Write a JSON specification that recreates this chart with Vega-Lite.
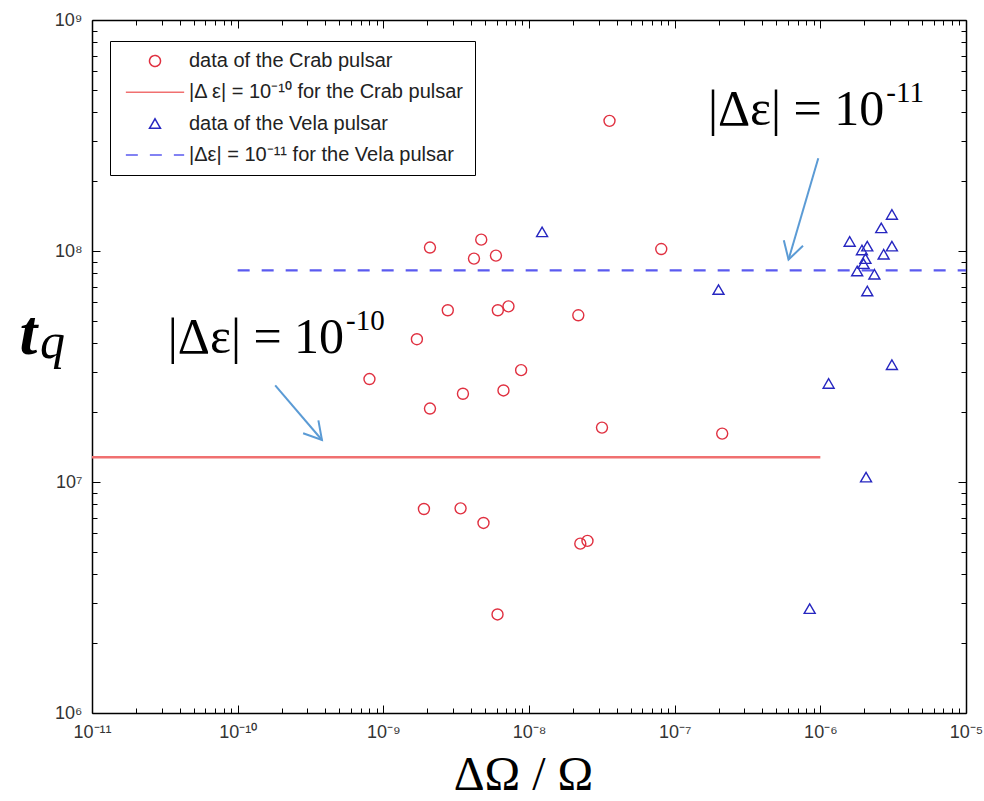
{
  "$schema": "https://vega.github.io/schema/vega-lite/v6.json",
  "width": 874,
  "height": 693,
  "autosize": {"type": "none"},
  "padding": {"left": 92, "top": 20, "right": 18, "bottom": 88},
  "background": "white",
  "config": {
    "view": {"stroke": null},
    "axis": {"grid": false, "domainColor": "black", "domainWidth": 1.5, "tickColor": "black", "tickWidth": 1, "labelFont": "Liberation Sans", "labelFontSize": 18, "labelColor": "#333", "labelOverlap": false, "labelFlush": false},
    "legend": {"strokeColor": "black", "fillColor": "white", "padding": 10, "labelFont": "Liberation Sans", "labelFontSize": 20, "labelColor": "#222", "labelLimit": 500, "symbolSize": 121, "symbolStrokeWidth": 1.5, "rowPadding": 11.3, "symbolOffset": 25, "labelOffset": 24}
  },
  "datasets": {
    "points": [
      {"dOmega": 2.09e-9, "tq": 1.035e8, "series": "data of the Crab pulsar"},
      {"dOmega": 4.70e-9, "tq": 1.12e8, "series": "data of the Crab pulsar"},
      {"dOmega": 4.19e-9, "tq": 9.27e7, "series": "data of the Crab pulsar"},
      {"dOmega": 5.93e-9, "tq": 9.55e7, "series": "data of the Crab pulsar"},
      {"dOmega": 2.77e-9, "tq": 5.54e7, "series": "data of the Crab pulsar"},
      {"dOmega": 6.11e-9, "tq": 5.54e7, "series": "data of the Crab pulsar"},
      {"dOmega": 7.23e-9, "tq": 5.76e7, "series": "data of the Crab pulsar"},
      {"dOmega": 1.70e-9, "tq": 4.15e7, "series": "data of the Crab pulsar"},
      {"dOmega": 8.03e-10, "tq": 2.79e7, "series": "data of the Crab pulsar"},
      {"dOmega": 8.83e-9, "tq": 3.05e7, "series": "data of the Crab pulsar"},
      {"dOmega": 3.52e-9, "tq": 2.41e7, "series": "data of the Crab pulsar"},
      {"dOmega": 6.68e-9, "tq": 2.49e7, "series": "data of the Crab pulsar"},
      {"dOmega": 2.09e-9, "tq": 2.08e7, "series": "data of the Crab pulsar"},
      {"dOmega": 1.90e-9, "tq": 7.64e6, "series": "data of the Crab pulsar"},
      {"dOmega": 3.39e-9, "tq": 7.69e6, "series": "data of the Crab pulsar"},
      {"dOmega": 4.87e-9, "tq": 6.65e6, "series": "data of the Crab pulsar"},
      {"dOmega": 6.08e-9, "tq": 2.67e6, "series": "data of the Crab pulsar"},
      {"dOmega": 3.57e-8, "tq": 3.66e8, "series": "data of the Crab pulsar"},
      {"dOmega": 8.09e-8, "tq": 1.02e8, "series": "data of the Crab pulsar"},
      {"dOmega": 2.18e-8, "tq": 5.27e7, "series": "data of the Crab pulsar"},
      {"dOmega": 3.17e-8, "tq": 1.72e7, "series": "data of the Crab pulsar"},
      {"dOmega": 2.12e-7, "tq": 1.62e7, "series": "data of the Crab pulsar"},
      {"dOmega": 2.25e-8, "tq": 5.41e6, "series": "data of the Crab pulsar"},
      {"dOmega": 2.52e-8, "tq": 5.56e6, "series": "data of the Crab pulsar"},
      {"dOmega": 1.23e-8, "tq": 1.21e8, "series": "data of the Vela pulsar"},
      {"dOmega": 2.0e-7, "tq": 6.81e7, "series": "data of the Vela pulsar"},
      {"dOmega": 8.45e-7, "tq": 2.83e6, "series": "data of the Vela pulsar"},
      {"dOmega": 3.10e-6, "tq": 1.44e8, "series": "data of the Vela pulsar"},
      {"dOmega": 2.62e-6, "tq": 1.26e8, "series": "data of the Vela pulsar"},
      {"dOmega": 1.59e-6, "tq": 1.10e8, "series": "data of the Vela pulsar"},
      {"dOmega": 2.10e-6, "tq": 1.05e8, "series": "data of the Vela pulsar"},
      {"dOmega": 3.10e-6, "tq": 1.05e8, "series": "data of the Vela pulsar"},
      {"dOmega": 1.93e-6, "tq": 1.01e8, "series": "data of the Vela pulsar"},
      {"dOmega": 2.72e-6, "tq": 9.68e7, "series": "data of the Vela pulsar"},
      {"dOmega": 2.04e-6, "tq": 9.27e7, "series": "data of the Vela pulsar"},
      {"dOmega": 1.98e-6, "tq": 8.82e7, "series": "data of the Vela pulsar"},
      {"dOmega": 1.79e-6, "tq": 8.19e7, "series": "data of the Vela pulsar"},
      {"dOmega": 2.35e-6, "tq": 7.93e7, "series": "data of the Vela pulsar"},
      {"dOmega": 2.10e-6, "tq": 6.71e7, "series": "data of the Vela pulsar"},
      {"dOmega": 3.10e-6, "tq": 3.22e7, "series": "data of the Vela pulsar"},
      {"dOmega": 1.14e-6, "tq": 2.67e7, "series": "data of the Vela pulsar"},
      {"dOmega": 2.06e-6, "tq": 1.05e7, "series": "data of the Vela pulsar"}
    ],
    "lines": [
      {"from": 1e-11, "to": 1e-6, "tq": 1.28e7, "series": "|Δ ε| = 10⁻¹⁰ for the Crab pulsar"},
      {"from": 1e-10, "to": 1e-5, "tq": 8.25e7, "series": "|Δε| = 10⁻¹¹ for the Vela pulsar"}
    ],
    "notes": [
      {"x": 5.38e-10, "y": 3.61e7, "base": "|Δε| = 10", "exp": "-10"},
      {"x": 2.75e-6, "y": 3.50e8, "base": "|Δε| = 10", "exp": "-11"}
    ],
    "shafts": [
      {"x": 1.81e-10, "y": 2.62e7, "x2": 3.79e-10, "y2": 1.52e7},
      {"x": 9.68e-7, "y": 2.52e8, "x2": 6.05e-7, "y2": 9.18e7}
    ]
  },
  "layer": [
    {
      "data": {"name": "lines"},
      "mark": {"type": "rule", "strokeWidth": 2.3},
      "encoding": {
        "x": {"field": "from", "type": "quantitative", "scale": {"type": "log", "domain": [1e-11, 1e-5], "nice": false},
          "axis": {"orient": "top", "labels": false, "values": [1e-11,2e-11,3e-11,4e-11,5e-11,6e-11,7e-11,8e-11,9e-11,1e-10,2e-10,3e-10,4e-10,5e-10,6e-10,7e-10,8e-10,9e-10,1e-9,2e-9,3e-9,4e-9,5e-9,6e-9,7e-9,8e-9,9e-9,1e-8,2e-8,3e-8,4e-8,5e-8,6e-8,7e-8,8e-8,9e-8,1e-7,2e-7,3e-7,4e-7,5e-7,6e-7,7e-7,8e-7,9e-7,1e-6,2e-6,3e-6,4e-6,5e-6,6e-6,7e-6,8e-6,9e-6,1e-5],
            "tickSize": {"condition": {"test": "indexof([1e-11,1e-10,1e-9,1e-8,1e-7,1e-6,1e-5], datum.value) >= 0", "value": -8}, "value": -5},
            "title": "q", "titleFont": "Liberation Serif", "titleFontStyle": "italic", "titleFontWeight": "normal", "titleFontSize": 50, "titleColor": "black", "titleAngle": 0, "titleAlign": "center", "titleBaseline": "alphabetic", "titleX": -40, "titleY": 337}},
        "x2": {"field": "to"},
        "y": {"field": "tq", "type": "quantitative", "scale": {"type": "log", "domain": [1e6, 1e9], "nice": false},
          "axis": {"orient": "right", "labels": false, "title": null, "values": [1e6,2e6,3e6,4e6,5e6,6e6,7e6,8e6,9e6,1e7,2e7,3e7,4e7,5e7,6e7,7e7,8e7,9e7,1e8,2e8,3e8,4e8,5e8,6e8,7e8,8e8,9e8,1e9],
            "tickSize": {"condition": {"test": "indexof([1e6,1e7,1e8,1e9], datum.value) >= 0", "value": -8}, "value": -5}}},
        "color": {"field": "series", "type": "nominal",
          "scale": {"domain": ["data of the Crab pulsar", "|Δ ε| = 10⁻¹⁰ for the Crab pulsar", "data of the Vela pulsar", "|Δε| = 10⁻¹¹ for the Vela pulsar"], "range": ["#e03040", "#f07070", "#2626c0", "#5a5af0"]},
          "legend": {"orient": "none", "legendX": 18, "legendY": 21, "title": null}},
        "strokeDash": {"field": "series", "type": "nominal",
          "scale": {"domain": ["data of the Crab pulsar", "|Δ ε| = 10⁻¹⁰ for the Crab pulsar", "data of the Vela pulsar", "|Δε| = 10⁻¹¹ for the Vela pulsar"], "range": [[1, 0], [1, 0], [1, 0], [12, 12]]},
          "legend": {"orient": "none", "legendX": 18, "legendY": 21, "title": null}}
      }
    },
    {
      "data": {"name": "points"},
      "mark": {"type": "point", "filled": false, "size": 121, "strokeWidth": 1.4, "opacity": 1},
      "encoding": {
        "x": {"field": "dOmega", "type": "quantitative", "scale": {"type": "log", "domain": [1e-11, 1e-5], "nice": false},
          "axis": {"orient": "bottom", "values": [1e-11,2e-11,3e-11,4e-11,5e-11,6e-11,7e-11,8e-11,9e-11,1e-10,2e-10,3e-10,4e-10,5e-10,6e-10,7e-10,8e-10,9e-10,1e-9,2e-9,3e-9,4e-9,5e-9,6e-9,7e-9,8e-9,9e-9,1e-8,2e-8,3e-8,4e-8,5e-8,6e-8,7e-8,8e-8,9e-8,1e-7,2e-7,3e-7,4e-7,5e-7,6e-7,7e-7,8e-7,9e-7,1e-6,2e-6,3e-6,4e-6,5e-6,6e-6,7e-6,8e-6,9e-6,1e-5],
            "tickSize": {"condition": {"test": "indexof([1e-11,1e-10,1e-9,1e-8,1e-7,1e-6,1e-5], datum.value) >= 0", "value": -8}, "value": -5},
            "labelExpr": "datum.value==1e-11?'10⁻¹¹':datum.value==1e-10?'10⁻¹⁰':datum.value==1e-9?'10⁻⁹':datum.value==1e-8?'10⁻⁸':datum.value==1e-7?'10⁻⁷':datum.value==1e-6?'10⁻⁶':datum.value==1e-5?'10⁻⁵':''",
            "labelPadding": 18, "labelFontSize": 18,
            "title": "ΔΩ / Ω", "titleFont": "Liberation Serif", "titleFontWeight": "normal", "titleFontSize": 48, "titleColor": "black", "titleX": 431, "titleY": 76, "titleBaseline": "alphabetic"}},
        "y": {"field": "tq", "type": "quantitative", "scale": {"type": "log", "domain": [1e6, 1e9], "nice": false},
          "axis": {"orient": "left", "values": [1e6,2e6,3e6,4e6,5e6,6e6,7e6,8e6,9e6,1e7,2e7,3e7,4e7,5e7,6e7,7e7,8e7,9e7,1e8,2e8,3e8,4e8,5e8,6e8,7e8,8e8,9e8,1e9],
            "tickSize": {"condition": {"test": "indexof([1e6,1e7,1e8,1e9], datum.value) >= 0", "value": -8}, "value": -5},
            "labelExpr": "datum.value==1e6?'10⁶':datum.value==1e7?'10⁷':datum.value==1e8?'10⁸':datum.value==1e9?'10⁹':''",
            "labelPadding": 18, "labelFontSize": 18,
            "title": "t", "titleFont": "Liberation Serif", "titleFontStyle": "italic", "titleFontWeight": "bold", "titleFontSize": 64, "titleColor": "black", "titleAngle": 0, "titleAlign": "center", "titleBaseline": "alphabetic", "titleX": -64, "titleY": 333}},
        "color": {"field": "series", "type": "nominal",
          "scale": {"domain": ["data of the Crab pulsar", "|Δ ε| = 10⁻¹⁰ for the Crab pulsar", "data of the Vela pulsar", "|Δε| = 10⁻¹¹ for the Vela pulsar"], "range": ["#e03040", "#f07070", "#2626c0", "#5a5af0"]},
          "legend": {"orient": "none", "legendX": 18, "legendY": 21, "title": null}},
        "shape": {"field": "series", "type": "nominal",
          "scale": {"domain": ["data of the Crab pulsar", "|Δ ε| = 10⁻¹⁰ for the Crab pulsar", "data of the Vela pulsar", "|Δε| = 10⁻¹¹ for the Vela pulsar"], "range": ["circle", "M-5.3,0L5.3,0", "triangle-up", "M-5.3,0L5.3,0"]},
          "legend": {"orient": "none", "legendX": 18, "legendY": 21, "title": null}}
      }
    },
    {
      "data": {"name": "shafts"},
      "mark": {"type": "rule", "color": "#5b9bd5", "strokeWidth": 2},
      "encoding": {
        "x": {"field": "x", "type": "quantitative", "scale": {"type": "log", "domain": [1e-11, 1e-5], "nice": false}, "axis": null},
        "y": {"field": "y", "type": "quantitative", "scale": {"type": "log", "domain": [1e6, 1e9], "nice": false}, "axis": null},
        "x2": {"field": "x2"},
        "y2": {"field": "y2"}
      }
    },
    {
      "data": {"values": [{"x": 3.79e-10, "y": 1.52e7}]},
      "mark": {"type": "point", "shape": "M-0.5,0.866L0,0L0.5,0.866", "size": 1600, "filled": false, "color": "#5b9bd5", "strokeWidth": 2, "opacity": 1, "angle": 139.7},
      "encoding": {
        "x": {"field": "x", "type": "quantitative", "scale": {"type": "log", "domain": [1e-11, 1e-5], "nice": false}, "axis": null},
        "y": {"field": "y", "type": "quantitative", "scale": {"type": "log", "domain": [1e6, 1e9], "nice": false}, "axis": null}
      }
    },
    {
      "data": {"values": [{"x": 6.05e-7, "y": 9.18e7}]},
      "mark": {"type": "point", "shape": "M-0.5,0.866L0,0L0.5,0.866", "size": 1600, "filled": false, "color": "#5b9bd5", "strokeWidth": 2, "opacity": 1, "angle": 196.3},
      "encoding": {
        "x": {"field": "x", "type": "quantitative", "scale": {"type": "log", "domain": [1e-11, 1e-5], "nice": false}, "axis": null},
        "y": {"field": "y", "type": "quantitative", "scale": {"type": "log", "domain": [1e6, 1e9], "nice": false}, "axis": null}
      }
    },
    {
      "data": {"name": "notes"},
      "mark": {"type": "text", "font": "Liberation Serif", "fontSize": 50, "align": "right", "baseline": "alphabetic", "color": "black"},
      "encoding": {
        "x": {"field": "x", "type": "quantitative", "scale": {"type": "log", "domain": [1e-11, 1e-5], "nice": false}, "axis": null},
        "y": {"field": "y", "type": "quantitative", "scale": {"type": "log", "domain": [1e6, 1e9], "nice": false}, "axis": null},
        "text": {"field": "base"}
      }
    },
    {
      "data": {"name": "notes"},
      "mark": {"type": "text", "font": "Liberation Serif", "fontSize": 29, "align": "left", "baseline": "alphabetic", "color": "black", "dx": 2, "dy": -23},
      "encoding": {
        "x": {"field": "x", "type": "quantitative", "scale": {"type": "log", "domain": [1e-11, 1e-5], "nice": false}, "axis": null},
        "y": {"field": "y", "type": "quantitative", "scale": {"type": "log", "domain": [1e6, 1e9], "nice": false}, "axis": null},
        "text": {"field": "exp"}
      }
    }
  ],
  "resolve": {"axis": {"x": "independent", "y": "independent"}}
}
